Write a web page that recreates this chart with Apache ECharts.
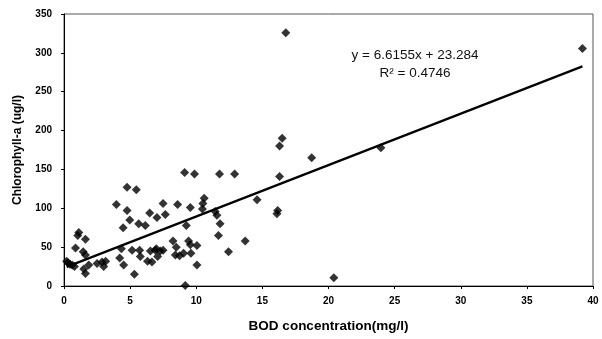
<!DOCTYPE html>
<html>
<head>
<meta charset="utf-8">
<script src="https://cdn.jsdelivr.net/npm/echarts@6/dist/echarts.min.js"></script>
<style>
  html, body { margin: 0; padding: 0; background: #fff; }
  #chart { width: 602px; height: 339px; }
</style>
</head>
<body>
<div id="chart"></div>
<script>
// BOD concentration (mg/l) vs Chlorophyll-a (ug/l)
const bod = [
  0.2, 0.3, 0.45, 0.62, 0.79, 0.87, 1.04, 1.12, 1.62, 1.45, 1.62, 1.62, 1.87, 1.5,
  2.5, 2.88, 3.0, 3.15, 3.96, 4.77, 4.97, 4.47, 4.77, 5.47, 4.34, 4.21, 4.51, 5.15,
  5.32, 5.72, 5.77, 5.65, 6.15, 6.48, 7.03, 6.32, 6.65, 6.53, 6.9, 7.49, 7.66, 8.59,
  9.55, 10.6, 10.5, 10.47, 11.43, 11.56, 11.8, 11.68, 9.25, 8.24, 6.98, 7.28, 7.49,
  7.08, 8.49, 8.42, 8.74, 9.04, 9.42, 9.55, 10.05, 9.6, 10.05, 9.17, 12.44, 13.7,
  14.6, 9.12, 9.87, 11.76, 12.9, 16.16, 16.1, 16.3, 16.3, 16.5, 16.77, 18.73, 20.4,
  23.96, 39.2
]
const chla = [
  32, 30, 28, 27, 25, 49, 65, 69, 60, 44, 40, 16, 27, 22,
  29, 31, 25, 32, 105, 97, 85, 75, 127, 124, 48, 36, 27, 46,
  15, 46, 38, 80, 78, 94, 88, 32, 31, 45, 46, 106, 92, 105,
  101, 113, 106, 99, 96, 91, 80, 65, 78, 58, 48, 45, 46,
  38, 50, 40, 39, 42, 58, 53, 52, 42, 27, 0.5, 44, 58,
  111, 146, 144, 144, 144, 97, 93, 141, 180, 190, 326, 165, 10.7,
  178, 305.5
]
const slope = 6.6155
const intercept = 23.284
const eqnText = 'y = 6.6155x + 23.284'
const r2Text = 'R\u00b2 = 0.4746'

const points = bod.map((x, i) => [x, chla[i]])
const xMin = Math.min(...bod)
const xMax = Math.max(...bod)
const trend = [[xMin, slope * xMin + intercept], [xMax, slope * xMax + intercept]]

const chart = echarts.init(document.getElementById('chart'))
const labelFont = {color: '#000', fontFamily: 'Liberation Sans, Arial', fontSize: 10, fontWeight: 'bold'}

chart.setOption({
  animation: false,
  backgroundColor: '#fff',
  grid: {left: 64, right: 9, top: 14, bottom: 53, show: true, borderColor: '#555', borderWidth: 1},
  xAxis: {
    type: 'value', min: 0, max: 40, interval: 5,
    name: 'BOD concentration(mg/l)', nameLocation: 'middle', nameGap: 33,
    nameTextStyle: {color: '#000', fontFamily: 'Liberation Sans, Arial', fontSize: 13.5, fontWeight: 'bold'},
    axisLine: {lineStyle: {color: '#000', width: 1}},
    axisTick: {show: true, length: 3, lineStyle: {color: '#000'}},
    axisLabel: Object.assign({margin: 10}, labelFont),
    splitLine: {show: false}
  },
  yAxis: {
    type: 'value', min: 0, max: 350, interval: 50,
    name: 'Chlorophyll-a (ug/l)', nameLocation: 'middle', nameGap: 40,
    nameTextStyle: {color: '#000', fontFamily: 'Liberation Sans, Arial', fontSize: 12, fontWeight: 'bold'},
    axisLine: {show: true, lineStyle: {color: '#000', width: 1}},
    axisTick: {show: true, length: 3, lineStyle: {color: '#000'}},
    axisLabel: Object.assign({margin: 12}, labelFont),
    splitLine: {show: false}
  },
  series: [
    {
      type: 'line', data: trend, symbol: 'none', silent: true,
      lineStyle: {color: '#000', width: 2.2}, z: 3
    },
    {
      type: 'scatter', data: points,
      symbol: 'path://M0,-1L1,0L0,1L-1,0Z', symbolSize: 9,
      itemStyle: {color: '#000'}, z: 4
    }
  ],
  graphic: [
    {type: 'text', x: 415, y: 55, style: {text: eqnText, fill: '#111', font: '13.5px Liberation Sans, Arial', align: 'center', verticalAlign: 'middle'}},
    {type: 'text', x: 415, y: 73, style: {text: r2Text, fill: '#111', font: '13.5px Liberation Sans, Arial', align: 'center', verticalAlign: 'middle'}}
  ]
})
</script>
</body>
</html>
